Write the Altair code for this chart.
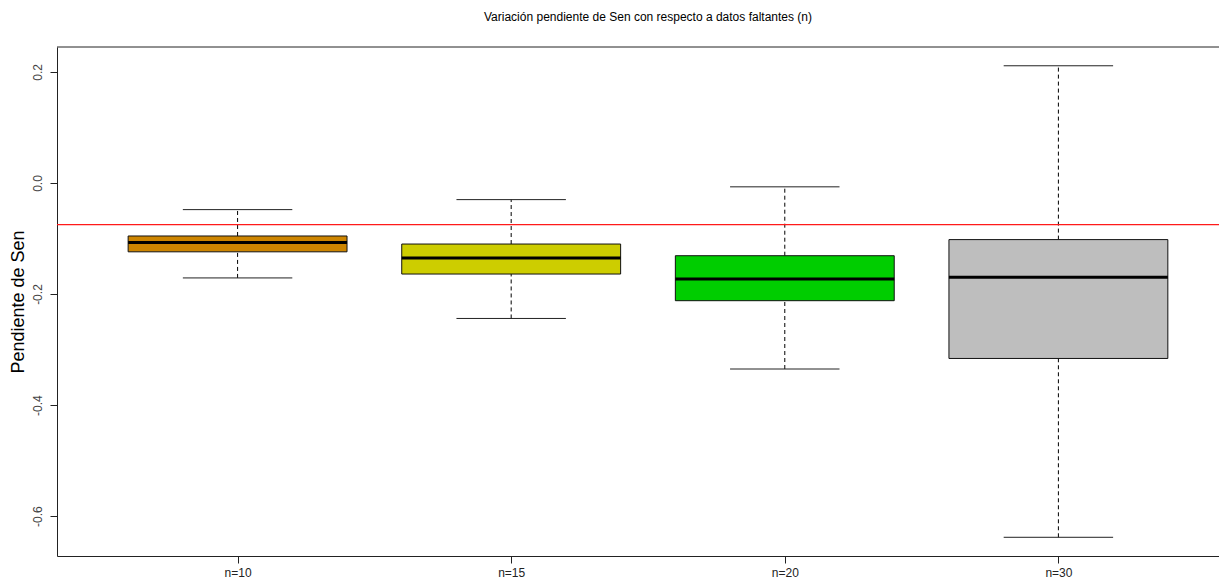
import json
import altair as alt
import pandas as pd

# ---- data ----
categories = ["n=10", "n=15", "n=20", "n=30"]
whisker_low = [-0.171, -0.244, -0.335, -0.638]
q1 = [-0.124, -0.164, -0.212, -0.316]
median = [-0.107, -0.135, -0.173, -0.170]
q3 = [-0.0955, -0.110, -0.131, -0.102]
whisker_high = [-0.048, -0.030, -0.007, 0.211]
box_colors = ["#CD8500", "#CDCD00", "#00CD00", "#BEBEBE"]
reference_value = [-0.075]

title_text = "Variación pendiente de Sen con respecto a datos faltantes (n)"
y_title = "Pendiente de Sen"
y_ticks = [-0.6, -0.4, -0.2, 0.0, 0.2]

df = pd.DataFrame({
    "cat": categories,
    "idx": list(range(1, len(categories) + 1)),
    "lo": whisker_low,
    "q1": q1,
    "med": median,
    "q3": q3,
    "hi": whisker_high,
    "col": box_colors,
})
ref_df = pd.DataFrame({"ref": reference_value})

FONT = "Liberation Sans"
W, H = 1162, 509

xscale = alt.Scale(domain=[0.34, 4.587], nice=False, zero=False)
yscale = alt.Scale(domain=[-0.6717, 0.2448], nice=False, zero=False)

label_expr = json.dumps(categories) + "[datum.value - 1]"

base = alt.Chart(df).transform_calculate(
    bl="datum.idx - 0.4", br="datum.idx + 0.4",
    sl="datum.idx - 0.2", sr="datum.idx + 0.2",
)

x_axis = alt.Axis(values=[1, 2, 3, 4], labelExpr=label_expr, title=None,
                  grid=False, tickSize=7, tickColor="#222", domainColor="#222",
                  labelColor="#222", labelFontSize=12, labelPadding=4, labelFont=FONT)
y_axis = alt.Axis(values=y_ticks, labelExpr="replace(format(datum.value, '.1f'), '\u2212', '-')",
                  title=y_title, titleFontSize=18, titleFontWeight="normal", titleColor="black",
                  titleFont=FONT, titlePadding=4, labelAngle=270, labelAlign="center",
                  labelBaseline="bottom", labelPadding=6, grid=False, tickSize=7,
                  tickColor="#222", domainColor="#222", labelColor="#444",
                  labelFontSize=12, labelFont=FONT)

upper = base.mark_rule(color="black", strokeWidth=1, strokeDash=[4, 3]).encode(
    x=alt.X("idx:Q", scale=xscale, axis=x_axis),
    y=alt.Y("q3:Q", scale=yscale, axis=y_axis),
    y2="hi:Q",
)
lower = base.mark_rule(color="black", strokeWidth=1, strokeDash=[4, 3]).encode(
    x="idx:Q", y="lo:Q", y2="q1:Q",
)
staple_hi = base.mark_rule(color="#222", strokeWidth=1).encode(
    x="sl:Q", x2="sr:Q", y="hi:Q",
)
staple_lo = base.mark_rule(color="#222", strokeWidth=1).encode(
    x="sl:Q", x2="sr:Q", y="lo:Q",
)
box = base.mark_rect(stroke="#111", strokeWidth=1).encode(
    x="bl:Q", x2="br:Q", y="q1:Q", y2="q3:Q",
    fill=alt.Fill("col:N", scale=None),
)
med = base.mark_rule(color="black", strokeWidth=3).encode(
    x="bl:Q", x2="br:Q", y="med:Q",
)
ref = alt.Chart(ref_df).mark_rule(color="#FF1A1A", stroke="#FF1A1A", strokeWidth=1.3).encode(
    y="ref:Q",
)
top_border = alt.Chart(pd.DataFrame({"edge": [0]})).mark_rule(color="#222", strokeWidth=1).encode(
    x=alt.value(0), x2=alt.value(W), y=alt.value(0),
)

chart = alt.layer(upper, lower, staple_hi, staple_lo, box, med, top_border, ref).properties(
    width=W, height=H,
    background="white",
    title=alt.TitleParams(title_text, fontSize=12, fontWeight="normal", font=FONT,
                          color="black", anchor="middle", offset=23, dx=10),
    autosize=alt.AutoSizeParams(type="none"),
    padding={"left": 49, "top": 39, "right": 0, "bottom": 24},
).configure_view(stroke=None)

chart.save("out.html", embed_options={"renderer": "svg", "actions": False})
